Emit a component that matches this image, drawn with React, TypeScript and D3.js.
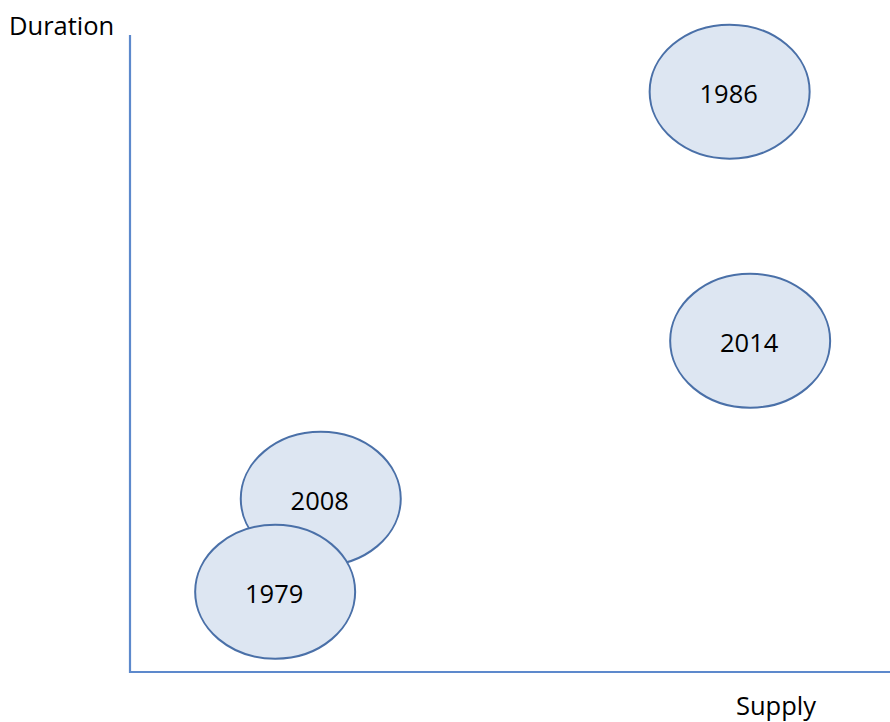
import React from "react";
import * as d3 from "d3";

const years = ["1986", "2014", "2008", "1979"];
const supply = [78.9, 81.6, 25.1, 19.1];
const duration = [91.1, 52.0, 27.2, 12.6];

export default function App() {
  const W = 890, H = 722;
  const x = d3.scaleLinear().domain([0, 100]).range([130, 890]);
  const y = d3.scaleLinear().domain([0, 100]).range([672, 35]);
  const font = "'Open Sans', sans-serif";
  const pts = years.map((yr, i) => ({ yr, cx: x(supply[i]), cy: y(duration[i]) }));
  return (
    <svg width={W} height={H} style={{ position: "absolute", left: 0, top: 0 }}>
      <rect width={W} height={H} fill="#fff" />
      <path d={`M${x(0)},${y(100)} L${x(0)},${y(0)} L${x(100)},${y(0)}`} fill="none" stroke="#5d89cc" strokeWidth={2.2} />
      {pts.map((p) => (
        <g key={p.yr}>
          <ellipse cx={p.cx} cy={p.cy} rx={80} ry={67} fill="#dde6f2" stroke="#4a70a8" strokeWidth={2} />
          <text x={p.cx - 1} y={p.cy + 11} textAnchor="middle" fontFamily={font} fontSize={25.5} fill="#000">{p.yr}</text>
        </g>
      ))}
      <text x={9} y={35} fontFamily={font} fontSize={25.5} fill="#000">Duration</text>
      <text x={736} y={715} fontFamily={font} fontSize={25.5} fill="#000">Supply</text>
    </svg>
  );
}
